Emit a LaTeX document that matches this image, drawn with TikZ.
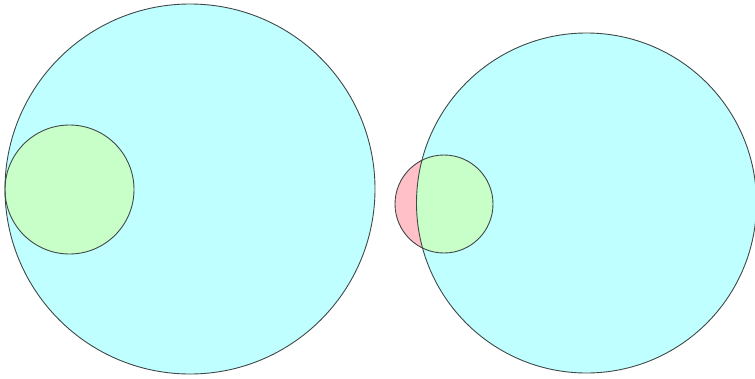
\documentclass[tikz,border=0pt]{standalone}
\definecolor{cyanfill}{HTML}{C0FFFF}
\definecolor{greenfill}{HTML}{C8FFC8}
\definecolor{pinkfill}{HTML}{FFC0C8}
\definecolor{edge}{HTML}{404848}
\tikzset{rim/.style={draw=edge, line width=0.9pt}}
\begin{document}
\begin{tikzpicture}[x=1pt,y=-1pt]
\useasboundingbox (0,0) rectangle (755,378);
% left pair
\fill[cyanfill] (190,189) circle (185);
\fill[greenfill] (69.5,189.5) circle (64.5);
\draw[rim] (69.5,189.5) circle (64.5);
\draw[rim] (190,189) circle (185);
% right pair
\fill[cyanfill] (586.5,203) circle (170);
\fill[pinkfill] (444,204) circle (49);
\begin{scope}
\clip (586.5,203) circle (170);
\fill[greenfill] (444,204) circle (49);
\end{scope}
\draw[rim] (444,204) circle (49);
\draw[rim] (586.5,203) circle (170);
\end{tikzpicture}
\end{document}
